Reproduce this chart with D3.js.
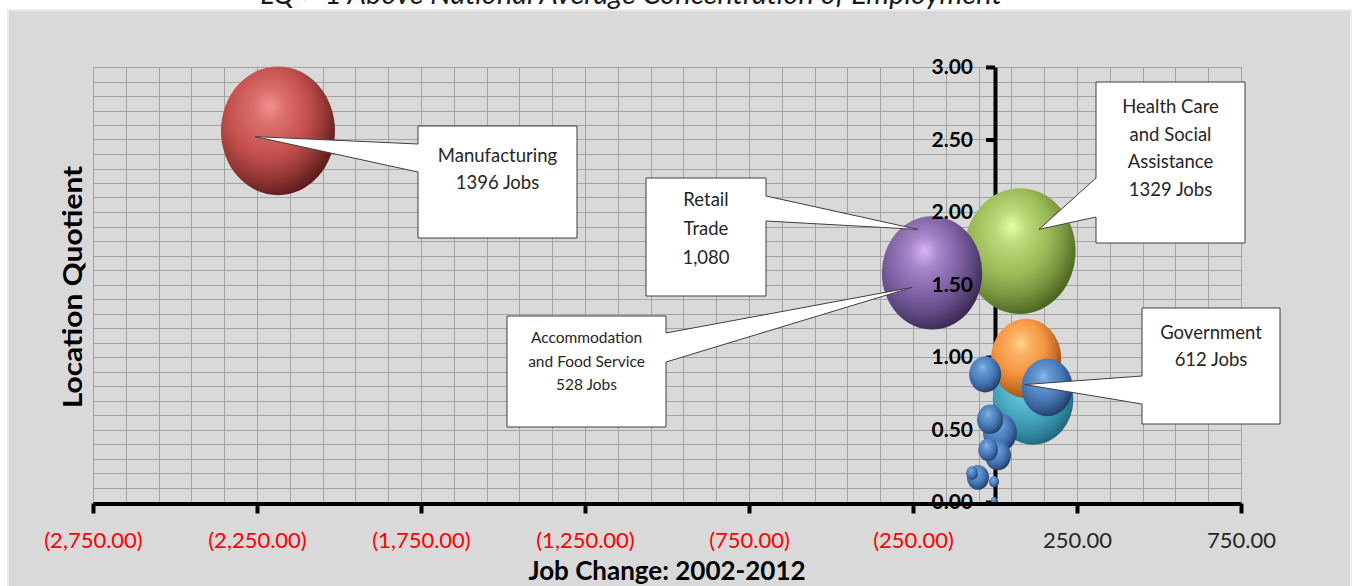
<!DOCTYPE html>
<html lang="en">
<head>
<meta charset="UTF-8">
<title>Location Quotient vs Job Change</title>
<script src="https://cdn.jsdelivr.net/npm/d3@7/dist/d3.min.js"></script>
<style>
    body { margin: 0; background: #fff; }
    svg { display: block; font-family: Lato, "Open Sans", sans-serif; }
    .grid line { stroke: #a4a4a4; stroke-width: 1; shape-rendering: crispEdges; }
    .callout path { fill: #fff; stroke: #3f3f3f; stroke-width: 1; }
    .callout text { fill: #262626; text-anchor: middle; }
</style>
</head>
<body>
<script>
    // canvas
    const width = 1359;
    const height = 586;

    // bubbles: job change 2002-2012, location quotient, employment
    const sectors = ['Manufacturing', 'Health Care and Social Assistance', 'Retail Trade',
        'Sector D', 'Accommodation and Food Service', 'Sector F', 'Sector G', 'Sector H',
        'Sector I', 'Sector J', 'Sector K', 'Sector L', 'Sector M', 'Sector N', 'Sector O'];
    const jobChange = [-2186, 76, -192, 116, 95, 159, -30, 15, -15, 9, -52, -21, -70, -3, -3];
    const locQuotient = [2.56, 1.73, 1.58, 0.71, 0.99, 0.79, 0.88, 0.48, 0.57, 0.32, 0.17, 0.36, 0.20, 0.14, 0.01];
    const employment = [1396, 1329, 1080, 700, 528, 280, 110, 124, 73, 73, 52, 43, 15, 11, 4];
    const colorKey = ['red', 'green', 'purple', 'teal', 'orange', 'blue', 'blue', 'blue',
        'blue', 'blue', 'blue', 'blue', 'blue', 'blue', 'blue'];

    // axis ticks
    const xTicks = [-2750, -2250, -1750, -1250, -750, -250, 250, 750];
    const yTicks = [0, 0.5, 1, 1.5, 2, 2.5, 3];

    // callout texts and where they point (data units)
    const calloutLines = [
        ['Manufacturing', '1396 Jobs'],
        ['Retail', 'Trade', '1,080'],
        ['Health Care', 'and Social', 'Assistance', '1329 Jobs'],
        ['Accommodation', 'and Food Service', '528 Jobs'],
        ['Government', '612 Jobs']
    ];
    const calloutTipX = [-2256, -235, 134, -253, 91];
    const calloutTipY = [2.52, 1.88, 1.88, 1.48, 0.81];

    // callout layout (pixels)
    const calloutBox = [
        { box: [418, 126, 577, 238], side: 'left', wedge: [144, 172], size: 18.5, top: 162, step: 27 },
        { box: [646, 178, 766, 296], side: 'right', wedge: [196, 221], size: 18.5, top: 206, step: 29 },
        { box: [1096, 82, 1245, 243], side: 'left', wedge: [178, 217], size: 18.5, top: 113, step: 27.5 },
        { box: [507, 316, 666, 427], side: 'right', wedge: [333, 362], size: 15.5, top: 343, step: 23.5 },
        { box: [1142, 308, 1280, 424], side: 'left', wedge: [376, 404], size: 18.5, top: 339, step: 27 }
    ];

    const palette = {
        red:    ['#f29290', '#c4504d', '#5e1d1c'],
        green:  ['#e4ffa0', '#9aba58', '#4d6620'],
        purple: ['#d8b4f6', '#8062a6', '#3c2b55'],
        teal:   ['#98e4f2', '#48a8c2', '#1f6b80'],
        orange: ['#ffd688', '#f59443', '#9a4f12'],
        blue:   ['#88b6ec', '#4a7dbb', '#213f6a']
    };

    let svg = d3.select('body')
        .append('svg')
        .attr('width', width)
        .attr('height', height);

    // backgrounds
    svg.append('rect')
        .attr('x', 8).attr('y', 10)
        .attr('width', 1343).attr('height', 590)
        .attr('fill', '#d9d9d9')
        .attr('stroke', '#ececec')
        .attr('stroke-width', 2);

    // title, cut off by the top edge as in the original
    svg.append('text')
        .attr('x', 631).attr('y', 4)
        .attr('text-anchor', 'middle')
        .attr('font-style', 'italic')
        .attr('font-size', 29)
        .attr('fill', '#1a1a1a')
        .text('LQ > 1  Above National Average Concentration of Employment');

    // scales
    const x = d3.scaleLinear().domain([-2750, 750]).range([93, 1241]);
    const y = d3.scaleLinear().domain([0, 3]).range([502, 67]);
    const r = d3.scaleSqrt().domain([0, 1396]).range([0, 57]);
    const stretch = 1.13;

    // gridlines
    let grid = svg.append('g').attr('class', 'grid');
    grid.selectAll('.v')
        .data(d3.range(-2750, 751, 100))
        .enter().append('line')
        .attr('x1', d => Math.round(x(d)) + 0.5).attr('x2', d => Math.round(x(d)) + 0.5)
        .attr('y1', y(3)).attr('y2', y(0));
    grid.selectAll('.h')
        .data(d3.range(0, 31).map(i => i / 10))
        .enter().append('line')
        .attr('x1', x(-2750)).attr('x2', x(750))
        .attr('y1', d => Math.round(y(d)) + 0.5).attr('y2', d => Math.round(y(d)) + 0.5);

    // y axis line and ticks (under the bubbles)
    let yAxis = svg.append('g')
        .attr('transform', `translate(${x(0)},0)`)
        .call(d3.axisLeft(y).tickValues(yTicks).tickSize(9).tickSizeOuter(0).tickFormat(''));
    yAxis.select('.domain').attr('stroke', '#000').attr('stroke-width', 4);
    yAxis.selectAll('.tick line').attr('stroke', '#000').attr('stroke-width', 4);

    // gradients for the 3d bubbles
    let defs = svg.append('defs');
    Object.keys(palette).forEach(k => {
        const c = palette[k];
        let g = defs.append('radialGradient')
            .attr('id', 'grad-' + k)
            .attr('cx', 0.4).attr('cy', 0.38).attr('r', 0.64)
            .attr('fx', 0.43).attr('fy', 0.3);
        g.append('stop').attr('offset', '0%').attr('stop-color', c[0]);
        g.append('stop').attr('offset', '22%').attr('stop-color', d3.interpolateRgb(c[0], c[1])(0.55));
        g.append('stop').attr('offset', '55%').attr('stop-color', c[1]);
        g.append('stop').attr('offset', '78%').attr('stop-color', d3.interpolateRgb(c[1], c[2])(0.45));
        g.append('stop').attr('offset', '100%').attr('stop-color', c[2]);
    });

    // bubbles, biggest first
    let bubbles = sectors.map((s, i) => ({
        name: s, jc: jobChange[i], lq: locQuotient[i], emp: employment[i], color: colorKey[i]
    })).sort((a, b) => b.emp - a.emp);

    svg.append('g')
        .selectAll('ellipse')
        .data(bubbles)
        .enter()
        .append('ellipse')
        .attr('cx', d => x(d.jc))
        .attr('cy', d => y(d.lq))
        .attr('rx', d => r(d.emp))
        .attr('ry', d => r(d.emp) * stretch)
        .attr('fill', d => `url(#grad-${d.color})`);

    // y tick labels drawn over the bubbles
    let yLabels = svg.append('g')
        .attr('transform', `translate(${x(0)},0)`)
        .call(d3.axisLeft(y).tickValues(yTicks).tickSize(0).tickPadding(22).tickFormat(d3.format('.2f')));
    yLabels.select('.domain').remove();
    yLabels.selectAll('text')
        .attr('font-family', 'Lato, sans-serif')
        .attr('font-size', 21)
        .attr('font-weight', 'bold')
        .attr('fill', '#000');

    // x axis
    const fmt = d3.format(',.2f');
    let xAxis = svg.append('g')
        .attr('transform', `translate(0,${y(0) + 1.5})`)
        .call(d3.axisBottom(x).tickValues(xTicks).tickSize(10).tickSizeOuter(0)
            .tickFormat(d => d < 0 ? `(${fmt(-d)})` : fmt(d)));
    xAxis.select('.domain').attr('stroke', '#000').attr('stroke-width', 4);
    xAxis.selectAll('.tick line').attr('stroke', '#000').attr('stroke-width', 4);
    xAxis.selectAll('text')
        .attr('y', 37).attr('dy', '0.35em')
        .attr('font-family', 'Lato, sans-serif')
        .attr('font-size', 22)
        .attr('fill', d => d < 0 ? '#ff0000' : '#262626');

    // axis titles
    svg.append('text')
        .attr('x', 667).attr('y', 580)
        .attr('text-anchor', 'middle')
        .attr('font-weight', 'bold')
        .attr('font-size', 26)
        .attr('fill', '#000')
        .text('Job Change: 2002-2012');

    svg.append('text')
        .attr('transform', 'translate(82,287) scale(1,1.15) rotate(-90)')
        .attr('text-anchor', 'middle')
        .attr('font-weight', 'bold')
        .attr('font-size', 26)
        .attr('fill', '#000')
        .text('Location Quotient');

    // callouts
    function calloutPath (c, tip) {
        const [x0, y0, x1, y1] = c.box;
        const [a, b] = c.wedge;
        if (c.side === 'left') {
            return `M${x0},${y0}H${x1}V${y1}H${x0}V${b}L${tip[0]},${tip[1]}L${x0},${a}Z`;
        }
        return `M${x0},${y0}H${x1}V${a}L${tip[0]},${tip[1]}L${x1},${b}V${y1}H${x0}Z`;
    }

    calloutBox.forEach((c, i) => {
        const tip = [x(calloutTipX[i]), y(calloutTipY[i])];
        let g = svg.append('g').attr('class', 'callout');
        g.append('path').attr('d', calloutPath(c, tip));
        const cx = (c.box[0] + c.box[2]) / 2;
        g.selectAll('text')
            .data(calloutLines[i])
            .enter()
            .append('text')
            .attr('x', cx)
            .attr('y', (d, j) => c.top + j * c.step)
            .attr('font-size', c.size)
            .text(d => d);
    });
</script>
</body>
</html>
